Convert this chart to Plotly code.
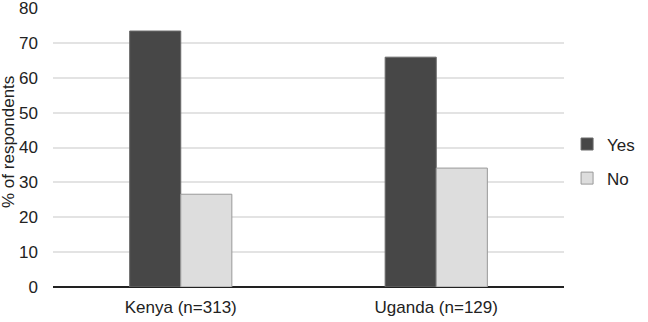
import plotly.graph_objects as go

categories = ["Kenya (n=313)", "Uganda (n=129)"]
yes_values = [73.4, 65.9]
no_values = [26.6, 34.1]
y_ticks = [0, 10, 20, 30, 40, 50, 60, 70, 80]

font = dict(family="Liberation Sans, Arial, sans-serif", size=17, color="#222222")

fig = go.Figure()
fig.add_trace(go.Bar(
    x=categories, y=yes_values, name="Yes", legendgroup="a",
    marker=dict(color="#474747", line=dict(color="#6a6a6a", width=1)),
))
fig.add_trace(go.Bar(
    x=categories, y=no_values, name="No", legendgroup="b",
    marker=dict(color="#dddddd", line=dict(color="#999999", width=1)),
))

fig.update_layout(
    width=648, height=322,
    margin=dict(l=53, r=80, t=8, b=35),
    paper_bgcolor="white", plot_bgcolor="white",
    font=font,
    barmode="group", bargap=0.6, bargroupgap=0,
    showlegend=True,
    legend=dict(x=1.006, xanchor="left", y=0.45, yanchor="middle",
                font=font, itemwidth=30, tracegroupgap=9,
                bgcolor="rgba(0,0,0,0)"),
    xaxis=dict(showgrid=False, showline=False, ticks="", tickfont=font,
               automargin=False, ticklabelstandoff=8),
    yaxis=dict(range=[0, 80], tickvals=y_ticks, showgrid=True,
               gridcolor="#e3e3e3", gridwidth=1.5, zeroline=True,
               zerolinecolor="#222222", zerolinewidth=1.5,
               tickfont=font, ticks="", showline=False, automargin=False,
               ticklabeloverflow="allow", ticklabelstandoff=14),
    annotations=[dict(text="% of respondents", textangle=-90,
                      xref="paper", yref="paper", x=-0.086, y=0.52,
                      xanchor="center", yanchor="middle", showarrow=False,
                      font=font)],
)

fig.write_html("out.html", config={"displayModeBar": False},
               post_script="document.body.style.margin='0';")
